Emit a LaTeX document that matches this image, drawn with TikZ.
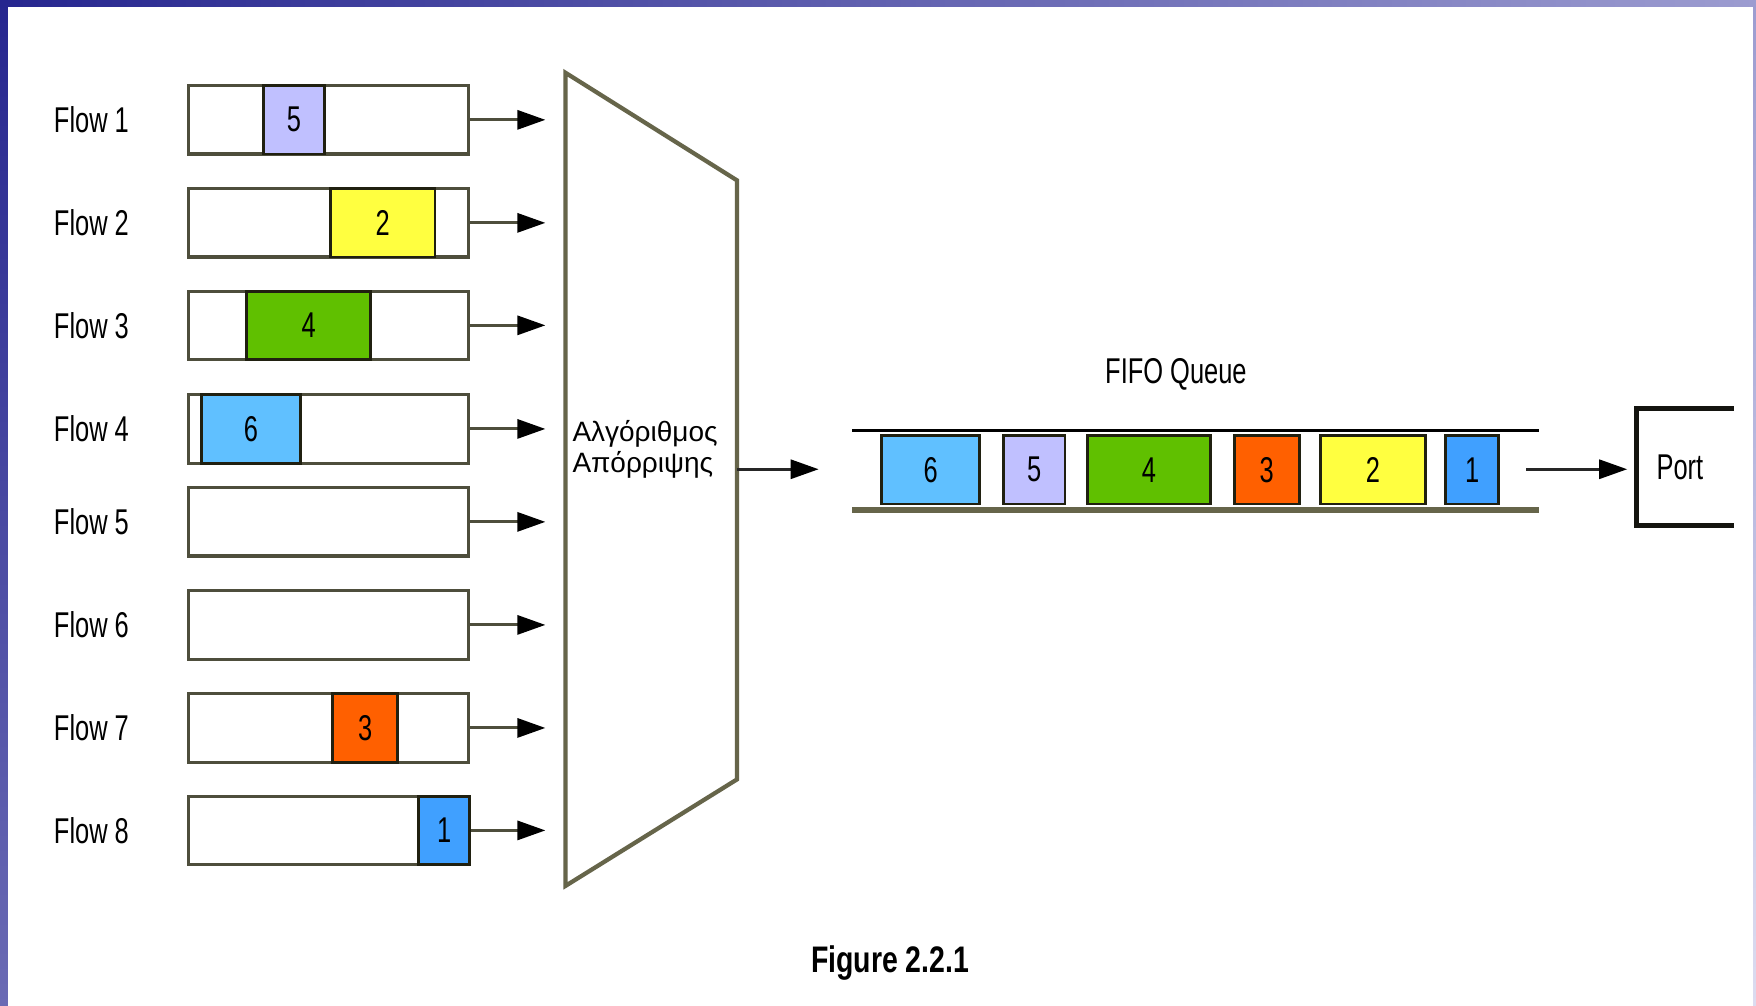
\documentclass[tikz,border=0pt]{standalone}
\usepackage{fontspec}
\setmainfont{Liberation Sans}
\usepackage{graphicx}
\usetikzlibrary{arrows.meta}
\definecolor{lav}{HTML}{C0C0FF}
\definecolor{yel}{HTML}{FFFF40}
\definecolor{grn}{HTML}{60C000}
\definecolor{lblue}{HTML}{60C0FF}
\definecolor{orng}{HTML}{FF6000}
\definecolor{dblue}{HTML}{40A0FF}
\definecolor{boxline}{HTML}{4E4E3C}
\definecolor{pktline}{HTML}{202010}
\definecolor{olive}{HTML}{66654A}
\definecolor{frameA}{HTML}{26268F}
\definecolor{frameB}{HTML}{9C9CD0}
\definecolor{frameC}{HTML}{6A6AB4}
\definecolor{frameD}{HTML}{DCDCF0}
\newcommand\nar[1]{\scalebox{0.71}[1]{#1}}
\newcommand\capnar[1]{\scalebox{0.77}[1]{#1}}
\begin{document}
\begin{tikzpicture}[x=1pt,y=-1pt,
  lbl/.style={inner sep=0pt,font=\fontsize{32}{38}\selectfont},
  fbox/.style={draw=boxline,line width=2.8pt,fill=white,minimum width=250pt,minimum height=61pt,inner sep=0pt},
  pkt/.style={draw=pktline,line width=2.6pt,minimum height=61pt,inner sep=0pt,font=\fontsize{32}{38}\selectfont},
  farrow/.style={draw=boxline,line width=2.6pt,-{Triangle[length=25pt,width=17pt,black]}},
  marrow/.style={draw=black!85,line width=2.6pt,-{Triangle[length=25pt,width=17pt,black]}}]
\useasboundingbox (0,0) rectangle (1568,898);
\fill[white] (0,0) rectangle (1568,898);
% frame
\shade[left color=frameA,right color=frameB] (0,0) rectangle (1568,5.4);
\shade[top color=frameA,bottom color=frameC] (0,0) rectangle (7,898);
\shade[top color=frameB,bottom color=frameD] (1565.3,0) rectangle (1568,898);
% flows
\foreach \i/\y in {1/107,2/199,3/290.5,4/383,5/466,6/558,7/650,8/741.5}{
  \node[lbl,anchor=base west] (l\i) at (48,\y+11.5) {\nar{Flow \i}};
  \node[fbox] (f\i) at (293,\y) {};
  \coordinate (e\i) at (487,\y);
  \draw[farrow] (f\i.east) -- (e\i);
}
% packets in flows
\node[pkt,fill=lav,minimum width=55pt] (a5) at (262.5,107) {\nar{5}};
\node[pkt,fill=yel,minimum width=93.5pt] (a2) at (341.7,199) {\nar{2}};
\node[pkt,fill=grn,minimum width=110.5pt] (a4) at (275.7,290.5) {\nar{4}};
\node[pkt,fill=lblue,minimum width=88pt] (a6) at (224,383) {\nar{6}};
\node[pkt,fill=orng,minimum width=58pt] (a3) at (326,650) {\nar{3}};
\node[pkt,fill=dblue,minimum width=45.5pt] (a1) at (396.7,741.5) {\nar{1}};
% dropping algorithm trapezoid
\coordinate (tA) at (505,65);
\coordinate (tB) at (658,161);
\coordinate (tC) at (658,696);
\coordinate (tD) at (505,791);
\draw[olive,line width=3.8pt,line join=miter] (tA) -- (tB) -- (tC) -- (tD) -- cycle;
\node[inner sep=0pt,anchor=north west,align=left,font=\fontsize{25}{28}\selectfont] (alg) at (511,375) {Αλγόριθμος\\Απόρριψης};
\coordinate (tout) at (658,419);
\coordinate (qin) at (731,419);
\draw[marrow] (tout) -- (qin);
% FIFO queue
\node[lbl,anchor=base] (fifo) at (1050,342) {\nar{FIFO Queue}};
\coordinate (q1) at (761,384);
\coordinate (q2) at (1374,384);
\coordinate (q3) at (761,455.5);
\coordinate (q4) at (1374,455.5);
\draw[black,line width=2.7pt] (q1) -- (q2);
\draw[olive,line width=6pt] (q3) -- (q4);
\node[pkt,fill=lblue,minimum width=88pt] (b6) at (831,419.5) {\nar{6}};
\node[pkt,fill=lav,minimum width=55pt] (b5) at (923.5,419.5) {\nar{5}};
\node[pkt,fill=grn,minimum width=110pt] (b4) at (1026,419.5) {\nar{4}};
\node[pkt,fill=orng,minimum width=58pt] (b3) at (1131,419.5) {\nar{3}};
\node[pkt,fill=yel,minimum width=94pt] (b2) at (1226,419.5) {\nar{2}};
\node[pkt,fill=dblue,minimum width=47pt] (b1) at (1314.5,419.5) {\nar{1}};
% port
\coordinate (qs) at (1363,419);
\coordinate (pin) at (1453,419);
\draw[marrow] (qs) -- (pin);
\draw[black!80!olive,line width=4.5pt] (1548,365) -- (1461,365) -- (1461,469) -- (1548,469);
\node[lbl,anchor=base west] (port) at (1479,428) {\nar{Port}};
% caption
\node[inner sep=0pt,anchor=base west,font=\bfseries\fontsize{33}{38}\selectfont] (cap) at (724,868) {\capnar{Figure 2.2.1}};
\end{tikzpicture}
\end{document}
